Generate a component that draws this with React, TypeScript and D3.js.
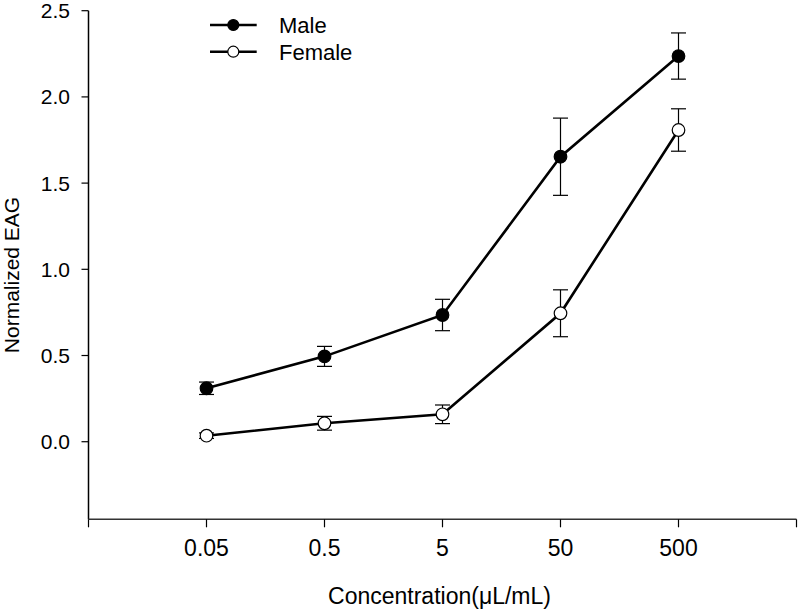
import React from "react";
import * as d3 from "d3";

const categories = ["0.05", "0.5", "5", "50", "500"];
const maleMeans = [0.31, 0.495, 0.735, 1.653, 2.237];
const maleErr = [0.036, 0.058, 0.091, 0.224, 0.134];
const femaleMeans = [0.035, 0.107, 0.159, 0.745, 1.808];
const femaleErr = [0.016, 0.04, 0.054, 0.136, 0.123];
const yTicks = [0, 0.5, 1.0, 1.5, 2.0, 2.5];
const seriesNames = ["Male", "Female"];

const W = 800;
const H = 613;
const FONT = "'Liberation Sans', Arial, Helvetica, sans-serif";

export default function App() {
  const left = 88.5;
  const right = 796.5;
  const top = 10.7;
  const bottom = 519.3;
  const x = d3.scaleLinear().domain([0, categories.length + 1]).range([left, right]);
  const y = d3.scaleLinear().domain([-0.45, 2.5]).range([bottom, top]);
  const xTickIdx = d3.range(0, categories.length + 2);

  const line = d3
    .line<number>()
    .x((_, i) => x(i + 1))
    .y((d) => y(d));

  const series = [
    { name: seriesNames[0], means: maleMeans, err: maleErr, fill: "#000" },
    { name: seriesNames[1], means: femaleMeans, err: femaleErr, fill: "#fff" },
  ];

  const cap = 7.5;

  return (
    <svg
      width={W}
      height={H}
      style={{ position: "absolute", left: 0, top: 0, background: "#fff" }}
      fontFamily={FONT}
    >
      <rect x={0} y={0} width={W} height={H} fill="#fff" />
      {/* axes */}
      <line x1={left} x2={left} y1={top} y2={bottom} stroke="#000" strokeWidth={1.5} />
      <line x1={left} x2={right} y1={bottom} y2={bottom} stroke="#333" strokeWidth={1.5} />
      {yTicks.map((t) => (
        <g key={t}>
          <line x1={left - 7} x2={left} y1={y(t)} y2={y(t)} stroke="#000" strokeWidth={1.2} />
          <text x={70} y={y(t)} dy="0.36em" textAnchor="end" fontSize={21}>
            {t.toFixed(1)}
          </text>
        </g>
      ))}
      {xTickIdx.map((i) => (
        <line key={i} x1={x(i)} x2={x(i)} y1={bottom} y2={bottom + 8} stroke="#000" strokeWidth={1.2} />
      ))}
      {categories.map((c, i) => (
        <text key={c} x={x(i + 1)} y={556} textAnchor="middle" fontSize={23}>
          {c}
        </text>
      ))}
      <text x={439.5} y={604} textAnchor="middle" fontSize={23}>
        Concentration(μL/mL)
      </text>
      <text
        transform={`translate(19, 275) rotate(-90)`}
        textAnchor="middle"
        fontSize={21}
      >
        Normalized EAG
      </text>

      {/* error bars */}
      {series.map((s) =>
        s.means.map((m, i) => {
          const cx = x(i + 1);
          const y1 = y(m + s.err[i]);
          const y2 = y(m - s.err[i]);
          return (
            <g key={s.name + i} stroke="#000" strokeWidth={1.2}>
              <line x1={cx} x2={cx} y1={y1} y2={y2} />
              <line x1={cx - cap} x2={cx + cap} y1={y1} y2={y1} />
              <line x1={cx - cap} x2={cx + cap} y1={y2} y2={y2} />
            </g>
          );
        })
      )}
      {/* lines */}
      {series.map((s) => (
        <path key={s.name} d={line(s.means) || ""} fill="none" stroke="#000" strokeWidth={2.6} />
      ))}
      {/* markers */}
      {series.map((s) =>
        s.means.map((m, i) => (
          <circle
            key={s.name + "c" + i}
            cx={x(i + 1)}
            cy={y(m)}
            r={6.3}
            fill={s.fill}
            stroke="#000"
            strokeWidth={1.2}
          />
        ))
      )}

      {/* legend */}
      {series.map((s, i) => {
        const ly = 25 + i * 26.7;
        return (
          <g key={s.name + "leg"}>
            <line x1={210} x2={256.7} y1={ly} y2={ly} stroke="#000" strokeWidth={2.4} />
            <circle cx={233.3} cy={ly} r={5.5} fill={s.fill} stroke="#000" strokeWidth={1.2} />
            <text x={279} y={ly} dy="0.36em" fontSize={22}>
              {s.name}
            </text>
          </g>
        );
      })}
    </svg>
  );
}
